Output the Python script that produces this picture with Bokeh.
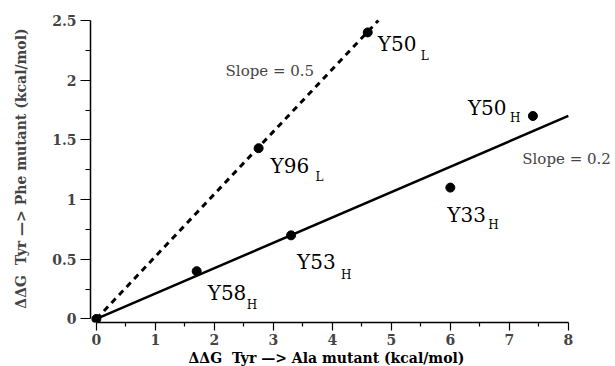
from bokeh.plotting import figure
from bokeh.models import Range1d, FixedTicker, Label, ColumnDataSource, CustomJSTickFormatter, Title
from bokeh.core.properties import value
from bokeh.embed import file_html
from bokeh.resources import INLINE

# ---- data ----
ddg_ala = [0.0, 1.7, 2.75, 3.3, 4.6, 6.0, 7.4]
ddg_phe = [0.0, 0.4, 1.43, 0.7, 2.4, 1.1, 1.7]
residue = ["", "Y58", "Y96", "Y53", "Y50", "Y33", "Y50"]
chain = ["", "H", "L", "H", "L", "H", "H"]

heavy_fit_x = [0.0, 8.0]
heavy_fit_y = [0.0, 1.7]
light_fit_x = [0.0, 4.78]
light_fit_y = [0.0, 2.5]

x_ticks = [0, 1, 2, 3, 4, 5, 6, 7, 8]
x_minor = [0.5, 1.5, 2.5, 3.5, 4.5, 5.5, 6.5, 7.5]
y_ticks = [0, 0.5, 1, 1.5, 2, 2.5]
y_minor = [0.25, 0.75, 1.25, 1.75, 2.25]

x_title = "\u0394\u0394G \u00a0Tyr \u2014> Ala mutant (kcal/mol)"
y_title = "\u0394\u0394G \u00a0Tyr \u2014> Phe mutant (kcal/mol)"
slope_texts = ["Slope = 0.5", "Slope = 0.2"]

# label placement (screen pixel offsets from each point)
main_dx = [0, 11, 12, 6, 10, -3, -65]
main_dy = [0, 22, 18, 27, 12, 27, -8]
sub_dx = [0, 50, 57, 50, 53, 38, -23]
sub_dy = [0, 34, 29, 40, 24, 37, 2]

SERIF = "DejaVu Serif"

p = figure(width=615, height=366,
           x_range=Range1d(-0.1, 8.8), y_range=Range1d(-0.03, 2.55),
           output_backend="svg", toolbar_location=None,
           min_border_left=90, min_border_right=0,
           min_border_top=14, min_border_bottom=44)
p.outline_line_color = None
p.grid.visible = False
p.background_fill_color = "white"

src = ColumnDataSource(dict(x=ddg_ala, y=ddg_phe, res=residue, ch=chain,
                            mdx=main_dx, mdy=main_dy, sdx=sub_dx, sdy=sub_dy))

p.line(light_fit_x, light_fit_y, line_color="black", line_width=3, line_dash="6 5")
p.line(heavy_fit_x, heavy_fit_y, line_color="black", line_width=2.5)
p.scatter("x", "y", source=src, size=9, color="black")

p.text(x="x", y="y", text="res", x_offset="mdx", y_offset="mdy", source=src,
       text_font=value(SERIF), text_font_size="20px", text_baseline="alphabetic",
       text_color="black")
p.text(x="x", y="y", text="ch", x_offset="sdx", y_offset="sdy", source=src,
       text_font=value(SERIF), text_font_size="12px", text_baseline="alphabetic",
       text_color="black")

p.add_layout(Label(x=2.19, y=2.08, text=slope_texts[0], text_font=SERIF,
                   text_font_size="15px", text_baseline="alphabetic"))
p.add_layout(Label(x=7.22, y=1.34, text=slope_texts[1], text_font=SERIF,
                   text_font_size="15px", text_baseline="alphabetic"))

fmt = CustomJSTickFormatter(code="return tick.toString();")
for ax, ticks, minor in ((p.xaxis, x_ticks, x_minor), (p.yaxis, y_ticks, y_minor)):
    ax.ticker = FixedTicker(ticks=ticks, minor_ticks=minor)
    ax.formatter = fmt
    ax.axis_label_text_font = SERIF
    ax.axis_label_text_font_style = "bold"
    ax.axis_label_text_font_size = "14px"
    ax.major_label_text_font = SERIF
    ax.major_label_text_font_style = "bold"
    ax.major_label_text_font_size = "14px"
    ax.axis_line_width = 1.5
    ax.major_tick_in = 0
    ax.minor_tick_in = 0
    ax.major_tick_line_width = 1.2
    ax.minor_tick_line_width = 1.2

p.yaxis.axis_label = y_title
p.xaxis.bounds = (0, 8)
p.yaxis.bounds = (0, 2.5)
p.xaxis.major_tick_out = 8
p.xaxis.minor_tick_out = 4
p.yaxis.major_tick_out = 10
p.yaxis.minor_tick_out = 5
p.xaxis.major_label_standoff = 3
p.yaxis.major_label_standoff = 4
p.yaxis.axis_label_standoff = 20

p.add_layout(Title(text=x_title, align="left", offset=98, standoff=0,
                   text_font=SERIF, text_font_style="bold", text_font_size="14px",
                   text_color="black"), "below")

open("out.html", "w").write(file_html(p, INLINE))
